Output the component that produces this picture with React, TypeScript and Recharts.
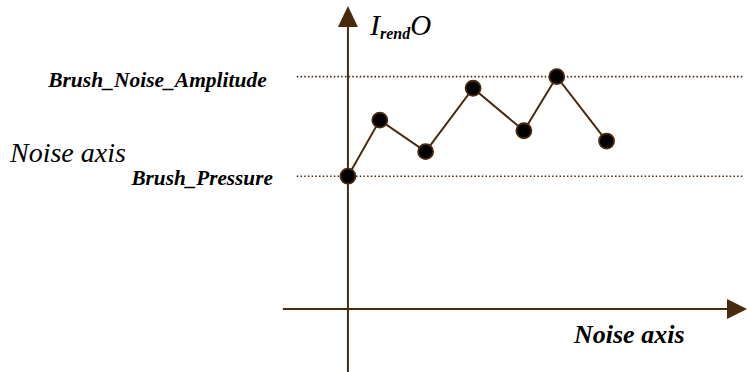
import { LineChart, Line, XAxis, YAxis, ReferenceLine, ReferenceDot } from "recharts";

// noise positions along the horizontal axis and the rendered output at each one
const noiseX = [0, 0.96, 2.34, 3.77, 5.3, 6.29, 7.79];
const rendered = [4, 5.69, 4.74, 6.65, 5.37, 7, 5.06];

const levelNames = ["Brush_Noise_Amplitude", "Brush_Pressure"];
const levelValues = [7, 4];
const axisTitles = ["Noise axis", "Noise axis"];

const data = noiseX.map((x, i) => ({ x, y: rendered[i] }));

const BROWN = "#4a2a0c";
const SERIF = "'Liberation Serif', 'Times New Roman', serif";

const xDomain: [number, number] = [-10.48, 12.02];
const yDomain: [number, number] = [-1.9, 9.31];

function UpArrow(props: any) {
  const { cx, cy } = props;
  return (
    <g>
      <polygon points={`${cx},${cy} ${cx - 10},${cy + 21} ${cx + 10},${cy + 21}`} fill={BROWN} />
      <text x={cx + 22} y={cy + 29} fontFamily={SERIF} fontStyle="italic" fill="#000">
        <tspan fontSize={30}>I</tspan>
        <tspan fontSize={16} fontWeight="bold" dy={4}>rend</tspan>
        <tspan fontSize={29} dy={-4}>O</tspan>
      </text>
    </g>
  );
}

function RightArrow(props: any) {
  const { cx, cy } = props;
  return (
    <g>
      <polygon points={`${cx},${cy} ${cx - 20},${cy - 10} ${cx - 20},${cy + 10}`} fill={BROWN} />
      <text x={cx - 173} y={cy + 34} fontFamily={SERIF} fontStyle="italic" fontWeight="bold" fontSize={26} fill="#000">
        {axisTitles[0]}
      </text>
    </g>
  );
}

function levelLabel(name: string, size: number, dx: number, dy: number, extra?: string) {
  return (props: any) => {
    const vb = props.viewBox || {};
    return (
      <g>
        <text x={vb.x + dx} y={vb.y + dy} textAnchor="end" fontFamily={SERIF} fontStyle="italic" fontWeight="bold" fontSize={size} fill="#000">
          {name}
        </text>
        {extra ? (
          <text x={10} y={vb.y - 14} fontFamily={SERIF} fontStyle="italic" fontSize={28} fill="#000">
            {extra}
          </text>
        ) : null}
      </g>
    );
  };
}

function PointDot(props: any) {
  const { cx, cy, index } = props;
  return <circle key={`pt-${index}`} cx={cx} cy={cy} r={7.5} fill="#000" stroke={BROWN} strokeWidth={1.8} />;
}

export default function App() {
  return (
    <div style={{ width: 747, height: 372, background: "#fff" }}>
      <style>{`body{margin:0}`}</style>
      <LineChart width={747} height={372} data={data} margin={{ top: 0, right: 0, bottom: 0, left: 0 }}>
        <XAxis type="number" dataKey="x" domain={xDomain} hide />
        <YAxis type="number" dataKey="y" domain={yDomain} hide />
        <ReferenceLine
          segment={[{ x: -1.54, y: levelValues[0] }, { x: 11.93, y: levelValues[0] }]}
          stroke={BROWN}
          strokeWidth={1.6}
          strokeDasharray="1.5 2.2"
          ifOverflow="visible"
          label={levelLabel(levelNames[0], 21.5, -30, 10)}
        />
        <ReferenceLine
          segment={[{ x: -1.54, y: levelValues[1] }, { x: 11.93, y: levelValues[1] }]}
          stroke={BROWN}
          strokeWidth={1.6}
          strokeDasharray="1.5 2.2"
          ifOverflow="visible"
          label={levelLabel(levelNames[1], 21.2, -24, 9, axisTitles[1])}
        />
        <ReferenceLine
          segment={[{ x: -1.96, y: 0 }, { x: 11.5, y: 0 }]}
          stroke={BROWN}
          strokeWidth={2}
          ifOverflow="visible"
        />
        <ReferenceLine
          segment={[{ x: 0, y: -1.9 }, { x: 0, y: 8.6 }]}
          stroke={BROWN}
          strokeWidth={2}
          ifOverflow="visible"
        />
        <ReferenceDot x={0} y={9.13} ifOverflow="visible" shape={UpArrow} />
        <ReferenceDot x={12.02} y={0} ifOverflow="visible" shape={RightArrow} />
        <Line
          type="linear"
          dataKey="y"
          stroke={BROWN}
          strokeWidth={2}
          dot={PointDot}
          activeDot={false}
          isAnimationActive={false}
        />
      </LineChart>
    </div>
  );
}
